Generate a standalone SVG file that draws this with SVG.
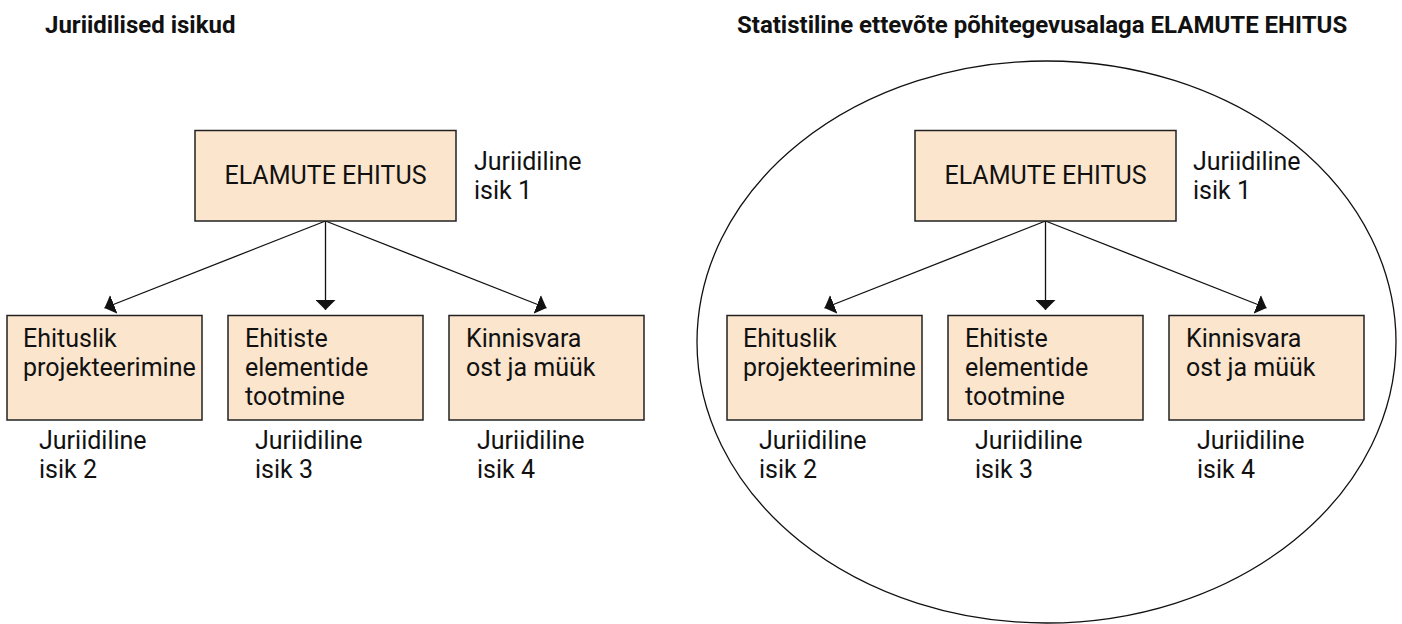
<svg xmlns="http://www.w3.org/2000/svg" width="1402" height="624" viewBox="0 0 1402 624">
<style>
text{font-family:Roboto,"Liberation Sans",sans-serif;font-size:25px;fill:#111}
.title{font-weight:bold;font-size:24px}
.box{fill:#fce5cd;stroke:#222;stroke-width:1.5}
.conn line{stroke:#111;stroke-width:1.3}
</style>
<defs>
<marker id="ah" markerUnits="userSpaceOnUse" markerWidth="12" markerHeight="20" refX="10" refY="10" orient="auto" viewBox="0 0 12 20">
<path d="M0,0 L10,10 L0,20 Z" fill="#111"/>
</marker>
</defs>
<rect width="1402" height="624" fill="#fff"/>
<text class="title" x="45" y="33">Juriidilised isikud</text>
<text class="title" x="737" y="33">Statistiline ettevõte põhitegevusalaga ELAMUTE EHITUS</text>
<ellipse id="enterprise" cx="1046.5" cy="342" rx="349.5" ry="281" fill="none" stroke="#111" stroke-width="1.3"/>
<g class="conn" id="connectors">
<line x1="325.5" y1="221" x2="104.5" y2="308" marker-end="url(#ah)"/>
<line x1="325.5" y1="221" x2="325.5" y2="310" marker-end="url(#ah)"/>
<line x1="325.5" y1="221" x2="546.5" y2="308" marker-end="url(#ah)"/>
<line x1="1045.5" y1="221" x2="824.5" y2="308" marker-end="url(#ah)"/>
<line x1="1045.5" y1="221" x2="1045.5" y2="310" marker-end="url(#ah)"/>
<line x1="1045.5" y1="221" x2="1266.5" y2="308" marker-end="url(#ah)"/>
</g>
<g id="L-top"><rect class="box" x="195" y="130.5" width="261" height="90.5"/><text x="325.5" y="184" text-anchor="middle">ELAMUTE EHITUS</text></g>
<g id="L-top-label"><text x="474" y="170">Juriidiline</text><text x="474" y="199">isik 1</text></g>
<g id="L-b1"><rect class="box" x="7" y="315.5" width="195" height="104.5"/><text x="23" y="347">Ehituslik</text><text x="23" y="376">projekteerimine</text></g>
<g id="L-b2"><rect class="box" x="228" y="315.5" width="195" height="104.5"/><text x="245" y="347">Ehitiste</text><text x="245" y="376">elementide</text><text x="245" y="405">tootmine</text></g>
<g id="L-b3"><rect class="box" x="449" y="315.5" width="195" height="104.5"/><text x="466" y="347">Kinnisvara</text><text x="466" y="376">ost ja müük</text></g>
<g id="L-l2"><text x="39" y="449">Juriidiline</text><text x="39" y="478">isik 2</text></g>
<g id="L-l3"><text x="255" y="449">Juriidiline</text><text x="255" y="478">isik 3</text></g>
<g id="L-l4"><text x="477" y="449">Juriidiline</text><text x="477" y="478">isik 4</text></g>
<g id="R-top"><rect class="box" x="915" y="130.5" width="261" height="90.5"/><text x="1045.5" y="184" text-anchor="middle">ELAMUTE EHITUS</text></g>
<g id="R-top-label"><text x="1193" y="170">Juriidiline</text><text x="1193" y="199">isik 1</text></g>
<g id="R-b1"><rect class="box" x="727" y="315.5" width="195" height="104.5"/><text x="743" y="347">Ehituslik</text><text x="743" y="376">projekteerimine</text></g>
<g id="R-b2"><rect class="box" x="948" y="315.5" width="195" height="104.5"/><text x="965" y="347">Ehitiste</text><text x="965" y="376">elementide</text><text x="965" y="405">tootmine</text></g>
<g id="R-b3"><rect class="box" x="1169" y="315.5" width="195" height="104.5"/><text x="1186" y="347">Kinnisvara</text><text x="1186" y="376">ost ja müük</text></g>
<g id="R-l2"><text x="759" y="449">Juriidiline</text><text x="759" y="478">isik 2</text></g>
<g id="R-l3"><text x="975" y="449">Juriidiline</text><text x="975" y="478">isik 3</text></g>
<g id="R-l4"><text x="1197" y="449">Juriidiline</text><text x="1197" y="478">isik 4</text></g>
</svg>
